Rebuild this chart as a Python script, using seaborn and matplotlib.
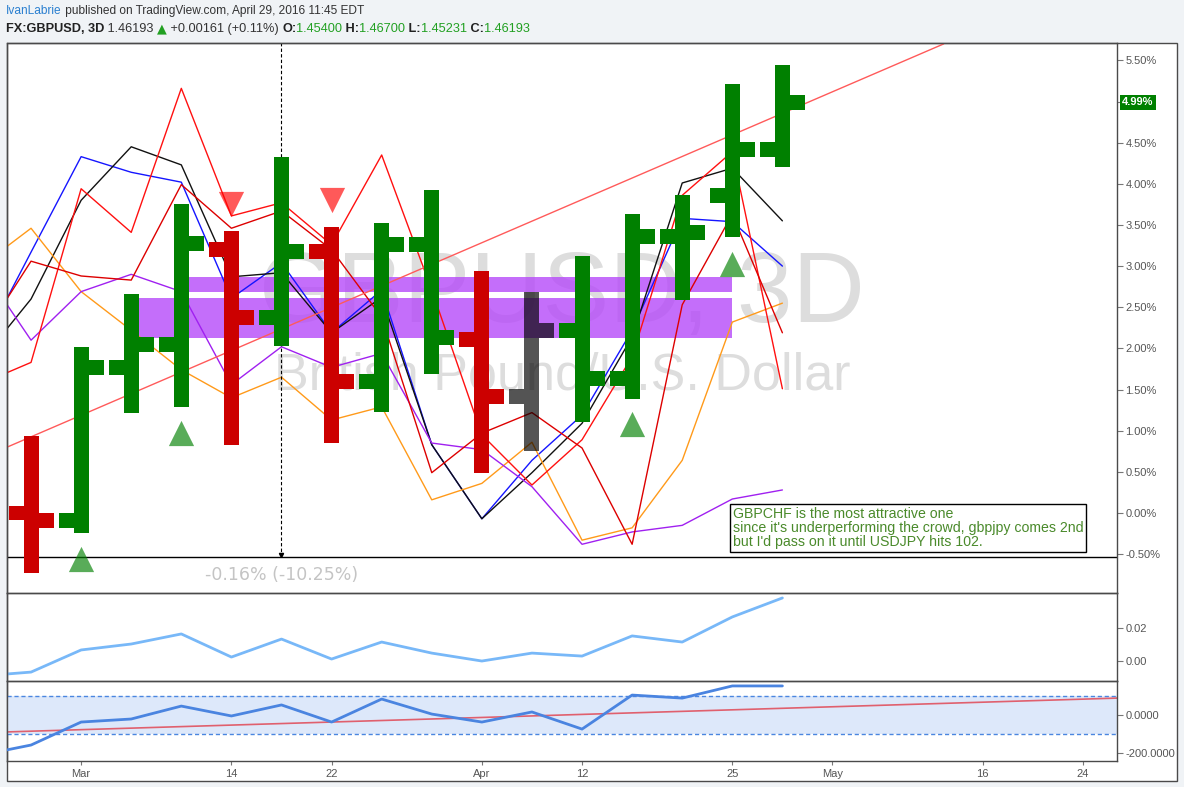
import numpy as np
import pandas as pd
import matplotlib.pyplot as plt
import matplotlib.transforms as mtransforms
from matplotlib.patches import Rectangle
import seaborn as sns

# ---- data (GBPUSD 3D bars, % change) ----
bar_idx = list(range(16))
bar_open = [0.00, -0.09, 1.77, 2.05, 3.20, 2.38, 3.18, 1.60, 3.26, 2.11, 1.41, 2.22, 1.63, 3.36, 3.86, 4.42]
bar_high = [0.94, 2.02, 2.66, 3.75, 3.43, 4.33, 3.48, 3.52, 3.92, 2.94, 2.69, 3.12, 3.63, 3.86, 5.21, 5.44]
bar_low = [-0.73, -0.24, 1.22, 1.29, 0.83, 2.03, 0.85, 1.23, 1.69, 0.49, 0.75, 1.10, 1.39, 2.59, 3.35, 4.20]
bar_close = [-0.09, 1.77, 2.05, 3.28, 2.38, 3.18, 1.60, 3.26, 2.13, 1.41, 2.22, 1.63, 3.36, 3.41, 4.42, 4.99]
bar_kind = ['down', 'up', 'up', 'up', 'down', 'up', 'down', 'up', 'up', 'down',
            'flat', 'up', 'up', 'up', 'up', 'up']

# comparison symbols, one point per bar (first point is just off the left edge)
line_idx = list(range(-1, 16))
cmp_blue = [2.00, 3.17, 4.33, 4.14, 4.02, 2.61, 3.04, 2.19, 2.71, 0.83, -0.07, 0.64, 1.19, 2.22, 3.58, 3.54, 3.00]
cmp_black = [1.85, 2.60, 3.80, 4.45, 4.23, 2.87, 2.92, 2.19, 2.62, 0.83, -0.07, 0.49, 1.09, 2.14, 4.01, 4.19, 3.55]
cmp_orange = [3.00, 3.46, 2.69, 2.22, 1.74, 1.40, 1.65, 1.13, 1.29, 0.16, 0.36, 0.86, -0.33, -0.18, 0.64, 2.32, 2.55]
cmp_purple = [3.00, 2.10, 2.69, 2.90, 2.69, 1.56, 2.02, 1.77, 1.94, 0.85, 0.77, 0.32, -0.38, -0.23, -0.15, 0.17, 0.28]
cmp_red1 = [1.57, 1.83, 3.94, 3.41, 5.16, 3.61, 3.77, 3.26, 4.35, 2.71, 0.95, 0.34, 0.89, 1.90, 3.86, 4.39, 1.51]
cmp_red2 = [2.11, 3.06, 2.88, 2.83, 3.99, 3.46, 3.67, 3.20, 2.38, 0.49, 0.97, 1.22, 0.79, -0.38, 2.53, 3.63, 2.19]

trend_x = [-0.48, 18.22]
trend_y = [0.80, 5.70]

zone_x0 = [3.12, 2.16]
zone_x1 = [14.0, 14.0]
zone_lo = [2.69, 2.13]
zone_hi = [2.87, 2.61]

up_x = [1, 3, 12, 14]
up_y = [-0.56, 0.97, 1.08, 3.03]
down_x = [4, 6]
down_y = [3.75, 3.80]

measure_x = 5
measure_y = -0.535
measure_label = '-0.16% (-10.25%)'

osc1 = [-0.0091, -0.0067, 0.0067, 0.0103, 0.0164, 0.0024, 0.0133, 0.0012, 0.0115, 0.0048,
        0.0000, 0.0048, 0.0030, 0.0152, 0.0115, 0.0267, 0.0382]
osc2 = [-211, -158, -37, -21, 47, -5, 53, -37, 84, 5, -37, 16, -74, 105, 89, 153, 153]
osc2_band = [-100, 100]
osc2_ma_x = [-0.48, 21.68]
osc2_ma_y = [-89, 89]

pct_ticks = [-0.5, 0.0, 0.5, 1.0, 1.5, 2.0, 2.5, 3.0, 3.5, 4.0, 4.5, 5.0, 5.5]
date_pos = [1, 4, 6, 9, 11, 14, 16, 19, 21]
date_labels = ['Mar', '14', '22', 'Apr', '12', '25', 'May', '16', '24']
last_value = 4.99

note = ("GBPCHF is the most attractive one\n"
        "since it's underperforming the crowd, gbpjpy comes 2nd\n"
        "but I'd pass on it until USDJPY hits 102.")

# ---- styling ----
sns.set_theme(style='white')
plt.rcParams['font.family'] = ['Liberation Sans', 'DejaVu Sans']
NARROW = ['Liberation Sans Narrow', 'Liberation Sans', 'DejaVu Sans']

W, H = 1184, 787
fig = plt.figure(figsize=(W / 100, H / 100), dpi=100, facecolor='#f0f3f6')
fig.patches.append(Rectangle((7 / W, 1 - 781 / H), 1170 / W, 738 / H, transform=fig.transFigure,
                             facecolor='white', edgecolor='#4a4a4a', lw=1, zorder=-5))

ax1 = fig.add_axes([7 / W, 1 - 593 / H, 1110 / W, 550 / H])
ax2 = fig.add_axes([7 / W, 1 - 681 / H, 1110 / W, 88 / H], sharex=ax1)
ax3 = fig.add_axes([7 / W, 1 - 761 / H, 1110 / W, 80 / H], sharex=ax1)

# watermark
ax1.text(0.5, (593 - 322) / 550, 'GBPUSD, 3D', transform=ax1.transAxes, ha='center', va='baseline',
         fontsize=72, color='black', alpha=0.135, zorder=0.5)
ax1.text(0.5, (593 - 390) / 550, 'British Pound/U.S. Dollar', transform=ax1.transAxes, ha='center',
         va='baseline', fontsize=37.5, color='black', alpha=0.135, zorder=0.5)

# purple zones
for x0, x1, lo, hi in zip(zone_x0, zone_x1, zone_lo, zone_hi):
    ax1.add_patch(Rectangle((x0, lo), x1 - x0, hi - lo, facecolor='#b64af9', alpha=0.8,
                            edgecolor='none', zorder=1))

# comparison lines
cmp = pd.DataFrame({'bar': line_idx, 'blue': cmp_blue, 'black': cmp_black, 'orange': cmp_orange,
                    'purple': cmp_purple, 'red1': cmp_red1, 'red2': cmp_red2})
cmp_long = cmp.melt(id_vars='bar', var_name='symbol', value_name='pct')
palette = {'blue': '#1515ff', 'black': '#111111', 'orange': '#ff9a1a', 'purple': '#a020f0',
           'red1': '#ff1010', 'red2': '#dd0000'}
sns.lineplot(data=cmp_long, x='bar', y='pct', hue='symbol', palette=palette, linewidth=1,
             estimator=None, sort=False, legend=False, ax=ax1, zorder=2)
ax1.plot(trend_x, trend_y, color='#ff5a5a', lw=1, zorder=2)

# OHLC bars
colors = {'up': '#008000', 'down': '#cc0000', 'flat': (0, 0, 0, 0.67)}
tick_h = 0.182
for i, o, h, l, c, k in zip(bar_idx, bar_open, bar_high, bar_low, bar_close, bar_kind):
    col = colors[k]
    ax1.bar(i, h - l, bottom=l, width=0.3, color=col, linewidth=0, zorder=3)
    ax1.bar(i - 0.3, tick_h, bottom=o - tick_h / 2, width=0.3, color=col, linewidth=0, zorder=3)
    ax1.bar(i + 0.3, tick_h, bottom=c - tick_h / 2, width=0.3, color=col, linewidth=0, zorder=3)

# signal triangles
ax1.scatter(up_x, up_y, marker='^', s=330, color='#008000', alpha=0.65, linewidths=0, zorder=4)
ax1.scatter(down_x, down_y, marker='v', s=330, color='#ff0000', alpha=0.65, linewidths=0, zorder=4)

# measurement
ax1.axhline(measure_y, color='black', lw=1, zorder=2)
ax1.vlines(measure_x, measure_y, 6, color='black', lw=0.8, linestyles=(0, (3, 2)), zorder=2)
ax1.plot(measure_x, measure_y + 0.03, marker='v', ms=3, color='black', zorder=2)
ax1.text(measure_x, -0.75, measure_label, ha='center', va='center', fontsize=12.5,
         color='#c4c4c4', family='DejaVu Sans', zorder=2)

# note box
ax1.text((733 - 7) / 1110, (593 - 507) / 550, note, transform=ax1.transAxes, ha='left', va='top',
         fontsize=10.2, color='#4a8a2b', linespacing=1.0, zorder=5,
         bbox=dict(boxstyle='square,pad=0.2', facecolor='white', edgecolor='black', lw=1))

ax1.set_xlim(-0.48, 21.68)
ax1.set_ylim(-0.972, 5.711)
ax1.set_yticks(pct_ticks)
ax1.set_yticklabels([f'{v:.2f}%' for v in pct_ticks])

# last value tag (drawn over the 5.00% tick label, like the reference)
tr = mtransforms.blended_transform_factory(ax1.transAxes, ax1.transData)
ax1.text(1.0 + 5 / 1110, last_value, f'{last_value:.2f}%', transform=tr, ha='left', va='center',
         fontsize=8, color='white', fontweight='bold', clip_on=False, zorder=6,
         bbox=dict(boxstyle='square,pad=0.22', facecolor='#008000', edgecolor='none'))

# panel 2 oscillator
sns.lineplot(x=line_idx, y=osc1, color='#78b8f8', linewidth=2, estimator=None, sort=False, ax=ax2)
ax2.set_ylim(-0.0121, 0.0412)
ax2.set_yticks([0.0, 0.02])
ax2.set_yticklabels(['0.00', '0.02'])

# panel 3 oscillator with band
ax3.axhspan(osc2_band[0], osc2_band[1], color='#dde8fa', lw=0, zorder=0)
for b in osc2_band:
    ax3.axhline(b, color='#4a86e0', lw=1, ls=(0, (3, 2)), zorder=1)
ax3.plot(osc2_ma_x, osc2_ma_y, color='#e0606e', lw=1.2, zorder=2)
sns.lineplot(x=line_idx, y=osc2, color='#4a84e0', linewidth=2, estimator=None, sort=False, ax=ax3,
             zorder=3)
ax3.set_ylim(-242, 179)
ax3.set_yticks([-200, 0])
ax3.set_yticklabels(['-200.0000', '0.0000'])

for ax in (ax1, ax2, ax3):
    ax.set_xlabel('')
    ax.set_ylabel('')
    ax.yaxis.tick_right()
    ax.tick_params(axis='y', which='both', right=True, left=False, length=4, width=0.8,
                   color='#777777', labelsize=8, labelcolor='#555555', pad=2)
    for sp in ax.spines.values():
        sp.set_color('#4a4a4a')
        sp.set_linewidth(1)
    ax.set_facecolor('none')

# hide the 5.00% label which the value tag covers in the reference
ax1.get_yticklabels()[pct_ticks.index(5.0)].set_visible(False)

ax1.tick_params(axis='x', bottom=False, labelbottom=False)
ax2.tick_params(axis='x', bottom=False, labelbottom=False)
ax3.set_xticks(date_pos)
ax3.set_xticklabels(date_labels)
ax3.tick_params(axis='x', bottom=True, length=3, width=0.8, color='#777777', labelsize=8,
                labelcolor='#555555', pad=3, labelfontfamily=NARROW)
ax3.set_xlim(-0.48, 21.68)

# header rows
renderer = fig.canvas.get_renderer()


def text_row(pieces, x_px, y_px):
    x = x_px / W
    for s, kw in pieces:
        fig.text(x, 1 - y_px / H, s, va='center', ha='left', **kw)
        p1 = fig.text(0, 0, s + '|', **kw)
        p2 = fig.text(0, 0, '|', **kw)
        w = p1.get_window_extent(renderer).width - p2.get_window_extent(renderer).width
        p1.remove()
        p2.remove()
        x += w / W


base = dict(fontsize=8.6, family=NARROW, color='#333333')
bold = dict(base, fontsize=9.2, fontweight='bold', color='#222222')
base2 = dict(base, fontsize=9.2)
green = dict(base2, color='#22a022')
text_row([('IvanLabrie', dict(base, color='#2a7fd0')),
          (' published on TradingView.com, April 29, 2016 11:45 EDT', base)], 6, 11)
text_row([('FX:GBPUSD, 3D', bold), (' 1.46193 ', base2), ('\u25b2', dict(green, family='DejaVu Sans')),
          (' +0.00161 (+0.11%) ', base2), ('O:', bold), ('1.45400', green), (' H:', bold),
          ('1.46700', green), (' L:', bold), ('1.45231', green), (' C:', bold), ('1.46193', green)],
         6, 29)

fig.savefig('out.png', dpi=100, facecolor=fig.get_facecolor())
